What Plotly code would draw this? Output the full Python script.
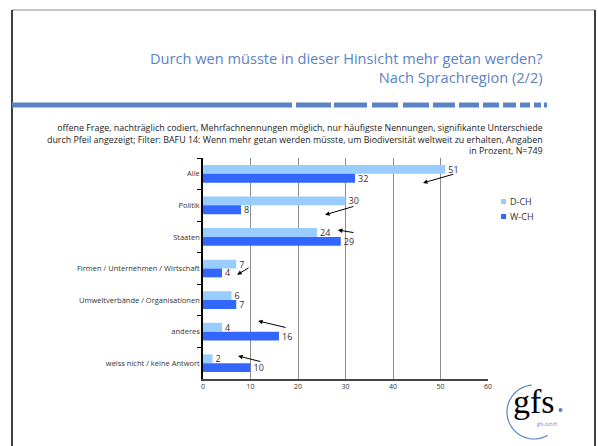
import math
import plotly.graph_objects as go

# Daten
kategorien = ['Alle', 'Politik', 'Staaten', 'Firmen / Unternehmen / Wirtschaft',
              'Umweltverbände / Organisationen', 'anderes', 'weiss nicht / keine Antwort']
d_ch = [51, 30, 24, 7, 6, 4, 2]
w_ch = [32, 8, 29, 4, 7, 16, 10]
serien = ['D-CH', 'W-CH']
x_ticks = [0, 10, 20, 30, 40, 50, 60]

# Pfeile fuer signifikante Unterschiede: (x_start, y_start, x_ende, y_ende)
pfeile = [(53, 0.0, 46.3, 0.29), (32, 1.02, 25.7, 1.3), (32, 1.87, 28.4, 1.78),
          (9.9, 2.95, 7.2, 3.2), (17.7, 4.88, 11.6, 4.66), (12.4, 5.96, 7.4, 5.77)]

titel = ['Durch wen müsste in dieser Hinsicht mehr getan werden?', 'Nach Sprachregion (2/2)']
untertitel = ['offene Frage, nachträglich codiert, Mehrfachnennungen möglich, nur häufigste Nennungen, signifikante Unterschiede',
              'durch Pfeil angezeigt; Filter: BAFU 14: Wenn mehr getan werden müsste, um Biodiversität weltweit zu erhalten, Angaben',
              'in Prozent, N=749']

W, H = 598, 446
L, R, T, B = 203, 488, 158, 379
BLAU = '#5b82c4'
FARBEN = ['#99ccff', '#3366ff']


def px(x):
    return (x - L) / (R - L)


def py(y):
    return (B - y) / (B - T)


fig = go.Figure()
for name, werte, farbe in zip(serien, [d_ch, w_ch], FARBEN):
    fig.add_trace(go.Bar(
        y=kategorien, x=werte, name=name, orientation='h',
        marker=dict(color=farbe, line=dict(width=0)),
        text=werte, textposition='outside', constraintext='none',
        textfont=dict(size=9, color='#333333'), cliponaxis=False,
        showlegend=False))

fig.update_layout(
    width=W, height=H,
    margin=dict(l=L, r=W - R, t=T, b=H - B),
    paper_bgcolor='white', plot_bgcolor='white',
    barmode='group', bargap=0.44, bargroupgap=0,
    font=dict(family='Open Sans, sans-serif', color='#333333'),
    xaxis=dict(range=[0, 60], tickvals=x_ticks, showgrid=True, gridcolor='#8c8c8c',
               gridwidth=1, showline=True, linecolor='#444444', linewidth=2,
               ticks='', tickfont=dict(size=7, color='#333333'), zeroline=False,
               fixedrange=True),
    yaxis=dict(autorange='reversed', showline=True, linecolor='black', linewidth=1.5,
               ticks='outside', ticklen=4, tickcolor='black', tickson='boundaries',
               tickfont=dict(size=7.5, color='#333333'), showgrid=False),
)

# Pfeile
for x0, y0, x1, y1 in pfeile:
    fig.add_annotation(x=x1, y=y1, ax=x0, ay=y0, xref='x', yref='y', axref='x', ayref='y',
                       text='', showarrow=True, arrowhead=2, arrowsize=0.9,
                       arrowwidth=1, arrowcolor='black', standoff=0)

# Titel und Untertitel
fig.add_annotation(x=px(545), y=py(68), xref='paper', yref='paper',
                   text='<br>'.join(titel), showarrow=False, xanchor='right',
                   yanchor='middle', align='right',
                   font=dict(size=14.6, color=BLAU))
fig.add_annotation(x=px(545), y=py(138.5), xref='paper', yref='paper',
                   text='<br>'.join(untertitel), showarrow=False, xanchor='right',
                   yanchor='middle', align='right',
                   font=dict(size=8.9, color='#222222'))

# Legende
for i, (name, farbe) in enumerate(zip(serien, FARBEN)):
    yc = 201.5 + 15 * i
    fig.add_shape(type='rect', xref='paper', yref='paper',
                  x0=px(501), x1=px(506), y0=py(yc - 2.5), y1=py(yc + 2.5),
                  fillcolor=farbe, line=dict(width=0))
    fig.add_annotation(x=px(508), y=py(yc), xref='paper', yref='paper', text=name,
                       showarrow=False, xanchor='left', yanchor='middle',
                       font=dict(size=9, color='#333333'))

# Rahmen
fig.add_shape(type='line', xref='paper', yref='paper', x0=px(12), x1=px(595),
              y0=py(10), y1=py(10), line=dict(color='#888888', width=1))
for xr in (12, 595):
    fig.add_shape(type='line', xref='paper', yref='paper', x0=px(xr), x1=px(xr),
                  y0=py(10), y1=py(450), line=dict(color='black', width=1.5))

# gestrichelter Balken
segmente = [(12, 292), (296, 331), (334, 367), (372, 398), (403, 429), (433, 455),
            (459, 479), (483, 499), (503, 516), (520, 530), (534, 541), (544, 547)]
for a, b in segmente:
    fig.add_shape(type='rect', xref='paper', yref='paper', x0=px(a), x1=px(b),
                  y0=py(102.5), y1=py(107.5), fillcolor=BLAU, line=dict(width=0))

# Logo
cx, cy, r = 534, 412, 27
pts = []
for k in range(0, 41):
    ang = math.radians(95 + (300 - 95) * k / 40)
    pts.append((px(cx + r * math.cos(ang)), py(cy - r * math.sin(ang))))
path = 'M ' + ' L '.join(f'{a:.4f},{b:.4f}' for a, b in pts)
fig.add_shape(type='path', xref='paper', yref='paper', path=path,
              line=dict(color=BLAU, width=1.2))
fig.add_annotation(x=px(534), y=py(401), xref='paper', yref='paper', text='gfs',
                   showarrow=False, xanchor='center', yanchor='middle',
                   font=dict(family='Liberation Serif, serif', size=34, color='black'))
fig.add_shape(type='circle', xref='paper', yref='paper', x0=px(558.5), x1=px(562.5),
              y0=py(408), y1=py(412), fillcolor=BLAU, line=dict(width=0))
fig.add_annotation(x=px(547), y=py(424), xref='paper', yref='paper', text='gfs-zürich',
                   showarrow=False, xanchor='center', yanchor='middle',
                   font=dict(size=4.5, color=BLAU))

# Seitenrand entfernen, damit die Figur das ganze Fenster fuellt
fig.write_html('out.html', config={'displayModeBar': False},
               post_script="document.body.style.margin='0';document.body.style.overflow='hidden';")
